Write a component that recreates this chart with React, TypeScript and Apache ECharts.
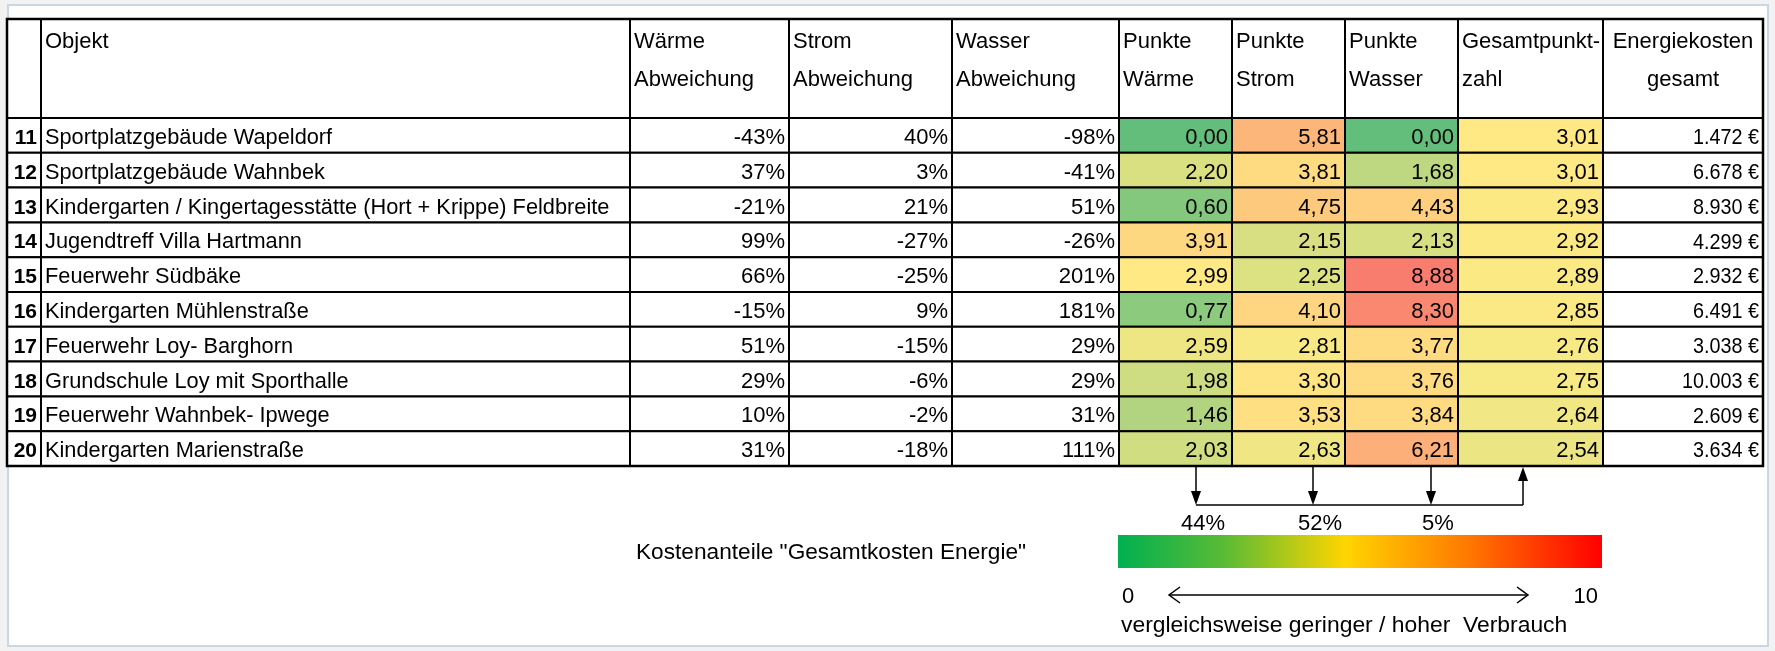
import React, { useEffect, useRef } from 'react';
import * as echarts from 'echarts';

// ---------- data ----------
const rowNumbers = [11, 12, 13, 14, 15, 16, 17, 18, 19, 20];
const objects = [
  'Sportplatzgebäude Wapeldorf',
  'Sportplatzgebäude Wahnbek',
  'Kindergarten / Kingertagesstätte (Hort + Krippe) Feldbreite',
  'Jugendtreff Villa Hartmann',
  'Feuerwehr Südbäke',
  'Kindergarten Mühlenstraße',
  'Feuerwehr Loy- Barghorn',
  'Grundschule Loy mit Sporthalle',
  'Feuerwehr Wahnbek- Ipwege',
  'Kindergarten Marienstraße',
];
const waermeAbweichung = [-43, 37, -21, 99, 66, -15, 51, 29, 10, 31];
const stromAbweichung = [40, 3, 21, -27, -25, 9, -15, -6, -2, -18];
const wasserAbweichung = [-98, -41, 51, -26, 201, 181, 29, 29, 31, 111];
const punkteWaerme = [0.0, 2.2, 0.6, 3.91, 2.99, 0.77, 2.59, 1.98, 1.46, 2.03];
const punkteStrom = [5.81, 3.81, 4.75, 2.15, 2.25, 4.1, 2.81, 3.3, 3.53, 2.63];
const punkteWasser = [0.0, 1.68, 4.43, 2.13, 8.88, 8.3, 3.77, 3.76, 3.84, 6.21];
const gesamtpunktzahl = [3.01, 3.01, 2.93, 2.92, 2.89, 2.85, 2.76, 2.75, 2.64, 2.54];
const energiekosten = [1472, 6678, 8930, 4299, 2932, 6491, 3038, 10003, 2609, 3634];
const headerLines = [
  [''],
  ['Objekt'],
  ['Wärme', 'Abweichung'],
  ['Strom', 'Abweichung'],
  ['Wasser', 'Abweichung'],
  ['Punkte', 'Wärme'],
  ['Punkte', 'Strom'],
  ['Punkte', 'Wasser'],
  ['Gesamtpunkt-', 'zahl'],
  ['Energiekosten', 'gesamt'],
];
const costShares = [44, 52, 5];
const costShareLabel = 'Kostenanteile "Gesamtkosten Energie"';
const scaleMinLabel = '0';
const scaleMaxLabel = '10';
const scaleCaption = 'vergleichsweise geringer / hoher  Verbrauch';
const scaleMin = 0;
const scaleMax = 10;
const scaleMid = 2.9;

// ---------- layout ----------
const W = 1775;
const H = 651;
const colEdges = [7, 41, 630, 789, 952, 1119, 1232, 1345, 1458, 1603, 1763];
const tableTop = 19;
const headerBottom = 118;
const tableBottom = 466;
const SANS = '"Liberation Sans", Arial, sans-serif';
const CELL_FONT = `22px ${SANS}`;
const LOWER_FONT = `22px ${SANS}`;

const fmtPct = (v: number) => `${v}%`;
const fmtPts = (v: number) => v.toFixed(2).replace('.', ',');
const fmtEur = (v: number) => `${String(v).replace(/\B(?=(\d{3})+(?!\d))/g, '.')} €`;

type Col = {
  values: (number | string)[];
  fmt: (v: any) => string;
  align: 'left' | 'right';
  colored: boolean;
  font?: string;
  sx?: number;
};
const columns: Col[] = [
  { values: rowNumbers, fmt: (v) => String(v), align: 'right', colored: false, font: `bold 21px ${SANS}` },
  { values: objects, fmt: (v) => String(v), align: 'left', colored: false, sx: 0.99 },
  { values: waermeAbweichung, fmt: fmtPct, align: 'right', colored: false },
  { values: stromAbweichung, fmt: fmtPct, align: 'right', colored: false },
  { values: wasserAbweichung, fmt: fmtPct, align: 'right', colored: false },
  { values: punkteWaerme, fmt: fmtPts, align: 'right', colored: true },
  { values: punkteStrom, fmt: fmtPts, align: 'right', colored: true },
  { values: punkteWasser, fmt: fmtPts, align: 'right', colored: true },
  { values: gesamtpunktzahl, fmt: fmtPts, align: 'right', colored: true },
  { values: energiekosten, fmt: fmtEur, align: 'right', colored: false, sx: 0.9 },
];

// Excel-like 3-colour scale (green -> yellow -> red), sampled for the visualMap
const GREEN = [99, 190, 123];
const YELLOW = [255, 235, 132];
const RED = [248, 105, 107];
const mix = (a: number[], b: number[], t: number) =>
  '#' + a.map((c, i) => Math.round(c + (b[i] - c) * t).toString(16).padStart(2, '0')).join('');
const scaleColors: string[] = [];
for (let i = 0; i <= 40; i++) {
  const v = scaleMin + ((scaleMax - scaleMin) * i) / 40;
  scaleColors.push(
    v <= scaleMid ? mix(GREEN, YELLOW, v / scaleMid) : mix(YELLOW, RED, (v - scaleMid) / (scaleMax - scaleMid))
  );
}

// arrows below the table
const arrowDownX = [1196, 1313, 1431];
const arrowUpX = 1523;
const arrowJoinY = 505;

const textEl = (text: string, x: number, y: number, align: string, font: string, sx = 1) => ({
  type: 'text',
  x,
  y,
  scaleX: sx,
  style: {
    text,
    x: 0,
    y: 0,
    align,
    textAlign: align,
    verticalAlign: 'middle',
    textVerticalAlign: 'middle',
    font,
    fill: '#000000',
  },
});

function buildOption() {
  const grids: any[] = [];
  const xAxes: any[] = [];
  const yAxes: any[] = [];
  const series: any[] = [];
  columns.forEach((col, i) => {
    grids.push({
      left: colEdges[i],
      width: colEdges[i + 1] - colEdges[i],
      top: headerBottom,
      height: tableBottom - headerBottom,
      containLabel: false,
    });
    xAxes.push({ type: 'category', gridIndex: i, data: ['c'], show: false });
    yAxes.push({ type: 'category', gridIndex: i, data: rowNumbers.map(String), inverse: true, show: false });
    series.push({
      type: 'custom',
      name: headerLines[i].join(' '),
      coordinateSystem: 'cartesian2d',
      xAxisIndex: i,
      yAxisIndex: i,
      data: col.values.map((v, r) => [0, r, typeof v === 'number' ? v : 0]),
      renderItem: (params: any, api: any) => {
        const c = api.coord([api.value(0), api.value(1)]);
        const s = api.size([1, 1]);
        const x0 = c[0] - s[0] / 2;
        const y0 = c[1] - s[1] / 2;
        const text = col.fmt(col.values[params.dataIndex]);
        const align = col.align;
        const tx = align === 'right' ? x0 + s[0] - 4 : x0 + 4;
        return {
          type: 'group',
          children: [
            {
              type: 'rect',
              shape: { x: x0, y: y0, width: s[0], height: s[1] },
              style: { fill: col.colored ? api.visual('color') : '#ffffff', stroke: '#000000', lineWidth: 2 },
            },
            textEl(text, tx, c[1] + 1, align, col.font || CELL_FONT, col.sx || 1),
          ],
        };
      },
    });
  });

  const graphic: any[] = [];
  // frame of the picture
  graphic.push({ type: 'rect', shape: { x: 0, y: 0, width: W, height: H }, style: { fill: '#f2f2f2' }, z: -10 });
  graphic.push({
    type: 'rect',
    shape: { x: 8, y: 5, width: 1760, height: 641 },
    style: { fill: '#ffffff', stroke: '#c9d6e4', lineWidth: 2 },
    z: -9,
  });

  // header cells
  headerLines.forEach((lines, i) => {
    const x0 = colEdges[i];
    const x1 = colEdges[i + 1];
    graphic.push({
      type: 'rect',
      shape: { x: x0, y: tableTop, width: x1 - x0, height: headerBottom - tableTop },
      style: { fill: '#ffffff', stroke: '#000000', lineWidth: 2 },
    });
    const centered = i === headerLines.length - 1;
    lines.forEach((ln, k) => {
      if (!ln) return;
      graphic.push(textEl(ln, centered ? (x0 + x1) / 2 : x0 + 4, 40 + k * 38, centered ? 'center' : 'left', CELL_FONT));
    });
  });
  // outer table border
  graphic.push({
    type: 'rect',
    shape: {
      x: colEdges[0],
      y: tableTop,
      width: colEdges[colEdges.length - 1] - colEdges[0],
      height: tableBottom - tableTop,
    },
    style: { fill: 'none', stroke: '#000000', lineWidth: 2.5 },
    z: 50,
  });

  // cost share arrows
  const ln = (x1: number, y1: number, x2: number, y2: number) => ({
    type: 'line',
    shape: { x1, y1, x2, y2 },
    style: { stroke: '#000000', lineWidth: 1.5 },
  });
  arrowDownX.forEach((x, i) => {
    graphic.push(ln(x, tableBottom + 1, x, arrowJoinY - 10));
    graphic.push({
      type: 'polygon',
      shape: { points: [[x - 5, arrowJoinY - 14], [x + 5, arrowJoinY - 14], [x, arrowJoinY]] },
      style: { fill: '#000000' },
    });
    graphic.push(textEl(`${costShares[i]}%`, x + 7, 522, 'center', LOWER_FONT));
  });
  graphic.push(ln(arrowDownX[0], arrowJoinY, arrowUpX, arrowJoinY));
  graphic.push(ln(arrowUpX, arrowJoinY, arrowUpX, tableBottom + 12));
  graphic.push({
    type: 'polygon',
    shape: { points: [[arrowUpX - 5, tableBottom + 15], [arrowUpX + 5, tableBottom + 15], [arrowUpX, tableBottom + 1]] },
    style: { fill: '#000000' },
  });

  // cost share caption
  graphic.push(textEl(costShareLabel, 636, 552, 'left', LOWER_FONT, 1.03));

  // colour scale legend bar
  graphic.push({
    type: 'rect',
    shape: { x: 1118, y: 535, width: 484, height: 33 },
    style: {
      fill: new echarts.graphic.LinearGradient(0, 0, 1, 0, [
        { offset: 0, color: '#00b050' },
        { offset: 0.22, color: '#5abb35' },
        { offset: 0.47, color: '#ffd500' },
        { offset: 0.72, color: '#ff7a00' },
        { offset: 1, color: '#ff0000' },
      ]),
    },
  });
  graphic.push(textEl(scaleMinLabel, 1122, 595, 'left', LOWER_FONT));
  graphic.push(textEl(scaleMaxLabel, 1598, 595, 'right', LOWER_FONT));
  graphic.push(textEl(scaleCaption, 1121, 625, 'left', LOWER_FONT, 1.04));
  // double arrow
  graphic.push(ln(1169, 595, 1528, 595));
  graphic.push({
    type: 'polyline',
    shape: { points: [[1180, 587], [1169, 595], [1180, 603]] },
    style: { stroke: '#000', lineWidth: 1.5, fill: 'none' },
  });
  graphic.push({
    type: 'polyline',
    shape: { points: [[1517, 587], [1528, 595], [1517, 603]] },
    style: { stroke: '#000', lineWidth: 1.5, fill: 'none' },
  });

  return {
    animation: false,
    grid: grids,
    xAxis: xAxes,
    yAxis: yAxes,
    visualMap: [
      {
        type: 'continuous',
        show: false,
        min: scaleMin,
        max: scaleMax,
        dimension: 2,
        seriesIndex: [5, 6, 7, 8],
        inRange: { color: scaleColors },
      },
    ],
    series,
    graphic: { elements: graphic },
  };
}

export default function App() {
  const ref = useRef<HTMLDivElement>(null);
  useEffect(() => {
    if (!ref.current) return;
    const chart = echarts.init(ref.current, undefined, { renderer: 'svg' });
    chart.setOption(buildOption() as any);
    return () => chart.dispose();
  }, []);
  return <div ref={ref} style={{ position: 'fixed', left: 0, top: 0, width: W, height: H }} />;
}
